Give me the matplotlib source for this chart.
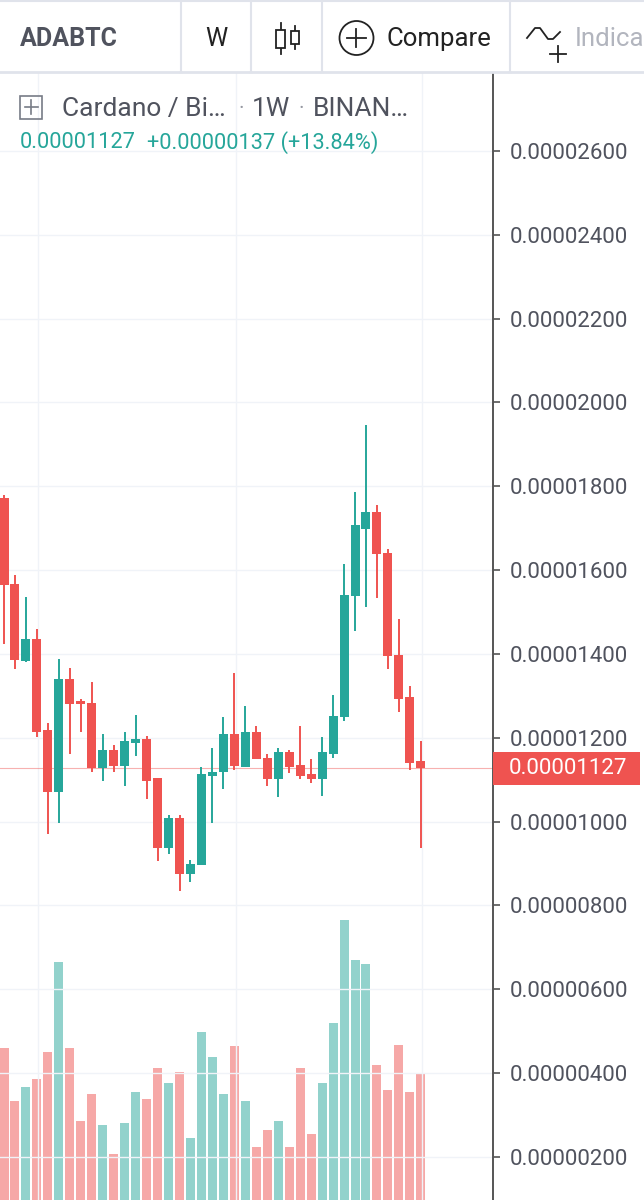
import matplotlib
matplotlib.use('Agg')
import matplotlib.pyplot as plt
from matplotlib.patches import Circle, Rectangle

plt.rcParams['font.family'] = ['Roboto', 'DejaVu Sans']

# weekly candles, price in units of 1e-8 BTC
opens = [1772, 1567, 1384, 1436, 1219, 1071, 1340, 1289, 1284, 1127, 1171, 1132, 1188, 1196, 1105, 936, 1009, 875, 897, 1110,
         1118, 1210, 1131, 1214, 1153, 1102, 1166, 1135, 1114, 1102, 1162, 1250, 1538, 1699, 1738, 1642, 1397, 1297, 1145]
closes = [1564, 1386, 1436, 1215, 1071, 1340, 1281, 1281, 1127, 1171, 1132, 1192, 1196, 1097, 936, 1009, 875, 900, 1114, 1118,
          1210, 1132, 1214, 1150, 1102, 1166, 1131, 1110, 1101, 1166, 1253, 1541, 1707, 1738, 1638, 1394, 1293, 1141, 1127]
highs = [1780, 1589, 1537, 1459, 1236, 1389, 1367, 1293, 1332, 1210, 1184, 1214, 1254, 1205, 1105, 1017, 1017, 908, 1131, 1175,
         1249, 1354, 1275, 1227, 1161, 1175, 1170, 1227, 1149, 1201, 1301, 1615, 1786, 1947, 1755, 1650, 1484, 1323, 1192]
lows = [1425, 1363, 1380, 1202, 971, 997, 1162, 1215, 1119, 1097, 1119, 1084, 1157, 1053, 905, 923, 835, 857, 897, 997,
        1079, 1123, 1131, 1150, 1084, 1058, 1115, 1102, 1093, 1062, 1153, 1241, 1455, 1511, 1533, 1363, 1262, 1123, 936]
volumes = [152, 99, 113, 121, 148, 238, 152, 79, 106, 75, 46, 77, 108, 101, 132, 117, 128, 62, 168, 143,
           106, 154, 99, 53, 70, 79, 53, 132, 66, 117, 177, 280, 240, 236, 135, 110, 155, 108, 126]
price_ticks = [200, 400, 600, 800, 1000, 1200, 1400, 1600, 1800, 2000, 2200, 2400, 2600]
last_price = 1127
grid_weeks = [3.1, 21.15, 38.1]

RED = '#ef5350'
GREEN = '#26a69a'
TEXT = '#50535e'
GRID = '#f0f3f8'

fig = plt.figure(figsize=(6.44, 12), dpi=100, facecolor='w')

W, H = 644.0, 1200.0
axis_x = 493.0
top_y = 73.0
rect = [0, 0, axis_x / W, (H - top_y) / H]

# volume sits behind the candles, same x
ax_vol = fig.add_axes(rect)
ax_vol.set_ylim(0, H - top_y)
ax_vol.axis('off')

ax = fig.add_axes(rect, sharex=ax_vol)
ax.patch.set_visible(False)
ax.set_xlim(-0.365, 44.58)
ax.set_ylim(97.4, 2786)

weeks = list(range(len(opens)))
colors = [GREEN if c >= o else RED for o, c in zip(opens, closes)]

ax_vol.bar(weeks, volumes, width=0.82, color=colors, alpha=0.5, linewidth=0)

ax.vlines(weeks, lows, highs, colors=colors, linewidth=1.4, zorder=3)
bottoms = [min(o, c) for o, c in zip(opens, closes)]
heights = [abs(o - c) for o, c in zip(opens, closes)]
ax.bar(weeks, heights, bottom=bottoms, width=0.82, color=colors, linewidth=0, zorder=4)

ax.axhline(last_price, color=RED, alpha=0.45, linewidth=0.8, zorder=2)

ax.set_yticks(price_ticks)
ax.set_yticklabels(['%.8f' % (p * 1e-8) for p in price_ticks])
ax.set_xticks(grid_weeks)
ax.set_xticklabels([])
ax.yaxis.tick_right()
ax.tick_params(axis='x', length=0)
ax.tick_params(axis='y', length=5, width=1.2, color='#555555', labelcolor=TEXT, labelsize=16, pad=7)
ax.grid(True, color=GRID, linewidth=1)
ax.set_axisbelow(True)
for name in ['top', 'left', 'bottom']:
    ax.spines[name].set_visible(False)
ax.spines['right'].set_color('#555555')
ax.spines['right'].set_linewidth(1.4)

# toolbar, legend and price tag drawn in pixel coords
ui = fig.add_axes([0, 0, 1, 1], zorder=5)
ui.set_xlim(0, W)
ui.set_ylim(H, 0)
ui.axis('off')
ui.patch.set_visible(False)

ui.add_patch(Rectangle((493, 752), 147, 33, color=RED, linewidth=0))
ui.text(509, 769, '0.00001127', color='w', fontsize=16, va='center')

border = '#e0e3eb'
ui.plot([0, W], [72, 72], color=border, linewidth=2)
ui.plot([0, W], [1, 1], color=border, linewidth=1.5)
for x in [181, 251, 322, 510]:
    ui.plot([x, x], [0, 72], color=border, linewidth=1.5)

ui.text(20, 39, 'ADABTC', color=TEXT, fontsize=18, fontweight='bold', va='center')
ui.text(216, 39, 'W', color='#222222', fontsize=18, ha='center', va='center')

# candle icon
ui.plot([281, 281], [23, 54], color='#222222', linewidth=1.3)
ui.add_patch(Rectangle((276.5, 30), 9, 18, facecolor='w', edgecolor='#222222', linewidth=1.3, zorder=3))
ui.plot([295, 295], [26, 49], color='#222222', linewidth=1.3)
ui.add_patch(Rectangle((291, 31), 8, 13, facecolor='w', edgecolor='#222222', linewidth=1.3, zorder=3))

# compare icon
ui.add_patch(Circle((356.5, 38), 17, facecolor='none', edgecolor='#222222', linewidth=1.3))
ui.plot([347, 366], [38, 38], color='#222222', linewidth=1.3)
ui.plot([356.5, 356.5], [29, 47], color='#222222', linewidth=1.3)
ui.text(387, 39, 'Compare', color='#222222', fontsize=18.5, va='center')

# indicators icon
ui.plot([527, 535, 540, 548, 553, 560], [38, 28, 28, 39, 39, 32], color='#222222', linewidth=1.3)
ui.plot([550, 566], [54, 54], color='#222222', linewidth=1.3)
ui.plot([558, 558], [46, 62], color='#222222', linewidth=1.3)
ui.text(575, 39, 'Indica', color='#b2b5be', fontsize=18.5, va='center', clip_on=True)

# legend
ui.add_patch(Rectangle((20, 96), 22.5, 22.5, facecolor='none', edgecolor='#777b86', linewidth=1.2))
ui.plot([25, 38], [107, 107], color='#777b86', linewidth=1.2)
ui.plot([31.5, 31.5], [100, 114], color='#777b86', linewidth=1.2)
ui.text(62, 109, 'Cardano / Bi…', color=TEXT, fontsize=19, va='center')
ui.text(239, 109, '·', color='#9598a1', fontsize=15, va='center')
ui.text(252, 109, '1W', color=TEXT, fontsize=19, va='center')
ui.text(299, 109, '·', color='#9598a1', fontsize=15, va='center')
ui.text(313, 109, 'BINAN…', color=TEXT, fontsize=19, va='center')
ui.text(20, 143, '0.00001127', color=GREEN, fontsize=15.7, va='center')
ui.text(147, 143, '+0.00000137 (+13.84%)', color=GREEN, fontsize=15.7, va='center')

plt.savefig('out.png', dpi=100)
plt.close()
